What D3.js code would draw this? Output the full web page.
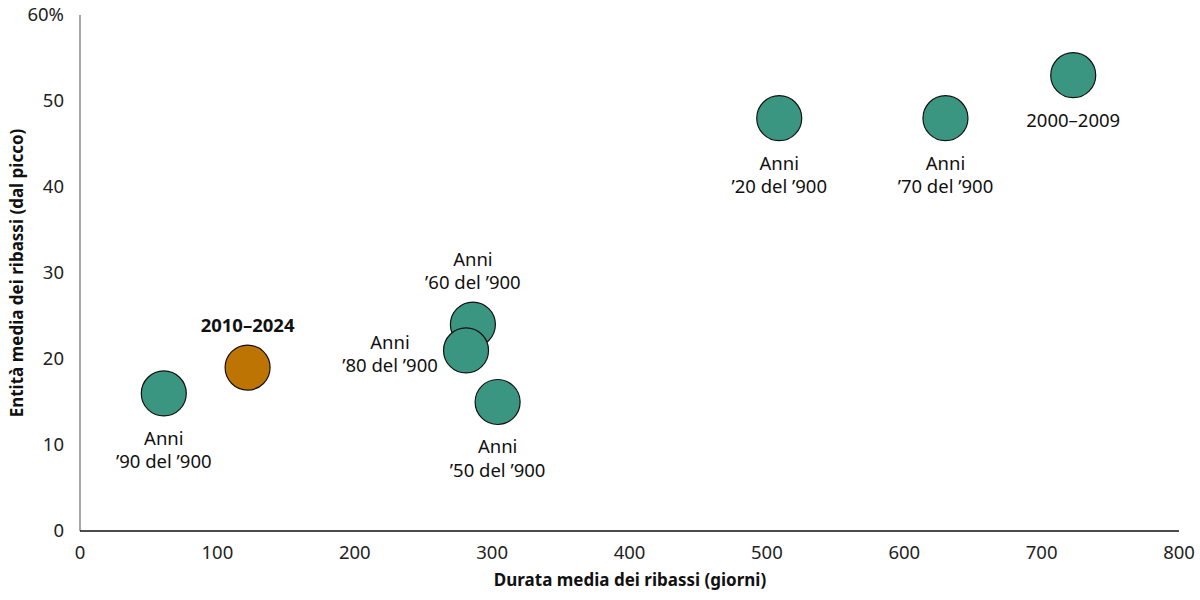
<!DOCTYPE html>
<html><head><meta charset="utf-8">
<script src="https://cdn.jsdelivr.net/npm/d3@7"></script>
<style>body{margin:0;background:#fff}text{font-family:"Noto Sans",sans-serif}</style>
</head><body><svg id="c" width="1200" height="600"></svg>
<script>
const labels = [["Anni","’90 del ’900"],["2010–2024"],["Anni","’60 del ’900"],["Anni","’80 del ’900"],["Anni","’50 del ’900"],["Anni","’20 del ’900"],["Anni","’70 del ’900"],["2000–2009"]];
const durations = [61, 122, 286, 281, 304, 509, 630, 723];
const declines = [16, 19, 24, 21, 15, 48, 48, 53];
const highlight = [false, true, false, false, false, false, false, false];
const labelPos = ["below","above","above","left","below","below","below","below"];
const xTicks = [0,100,200,300,400,500,600,700,800];
const yTicks = [0,10,20,30,40,50,60];

const svg = d3.select("#c");
const x = d3.scaleLinear().domain([0,800]).range([80,1179]);
const y = d3.scaleLinear().domain([0,60]).range([531,15]);

svg.append("line").attr("x1",x(0)).attr("x2",x(0)).attr("y1",y(60)).attr("y2",y(0)).attr("stroke","#777").attr("stroke-width",1.3);
svg.append("line").attr("x1",x(0)).attr("x2",x(800)).attr("y1",y(0)).attr("y2",y(0)).attr("stroke","#111").attr("stroke-width",1.3);

svg.selectAll(".yt").data(yTicks).join("text").attr("x",64).attr("y",d=>y(d)).attr("dy","0.35em")
  .attr("text-anchor","end").attr("font-size",18.5).attr("fill","#222").text(d=>d===60?"60%":d);
svg.selectAll(".xt").data(xTicks).join("text").attr("x",d=>x(d)).attr("y",553).attr("dy","0.35em")
  .attr("text-anchor","middle").attr("font-size",18.5).attr("fill","#222").text(d=>d);

svg.append("text").attr("transform","translate(17,273) rotate(-90)").attr("dy","0.35em").attr("text-anchor","middle")
  .attr("font-size",17).attr("font-weight","bold").attr("fill","#111").text("Entità media dei ribassi (dal picco)");
svg.append("text").attr("x",630).attr("y",580).attr("dy","0.35em").attr("text-anchor","middle")
  .attr("font-size",17).attr("font-weight","bold").attr("fill","#111").text("Durata media dei ribassi (giorni)");

const data = durations.map((d,i)=>({d, v:declines[i], lab:labels[i], h:highlight[i], pos:labelPos[i]}));
svg.selectAll("circle").data(data).join("circle").attr("cx",d=>x(d.d)).attr("cy",d=>y(d.v)).attr("r",22.5)
  .attr("fill",d=>d.h?"#bd7403":"#3a9680").attr("stroke","#111").attr("stroke-width",1.2);

data.forEach(d=>{
  const cx=x(d.d), cy=y(d.v), n=d.lab.length;
  let tx=cx, ty;
  if(d.pos==="below") ty=cy+45;
  else if(d.pos==="above") ty=cy-42-(n-1)*23.5;
  else {tx=cx-76; ty=cy-8;}
  d.lab.forEach((t,j)=>{
    svg.append("text").attr("x",tx).attr("y",ty+j*23.5).attr("dy","0.35em").attr("text-anchor","middle")
      .attr("font-size",18.5).attr("font-weight",d.h?"bold":"normal").attr("fill","#111").text(t);
  });
});
</script></body></html>
